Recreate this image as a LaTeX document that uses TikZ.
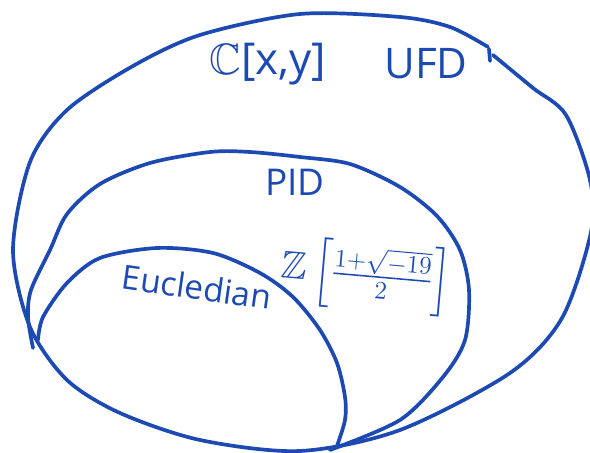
\documentclass[tikz,border=0pt]{standalone}
\usepackage{amssymb}
\usepackage{fontspec}
\setmainfont{Open Sans}
\definecolor{penblue}{RGB}{28,74,178}
\tikzset{
  pen/.style={penblue, line width=2.1pt, line cap=round, line join=round},
  hand/.style={text=penblue, inner sep=0pt}
}
\begin{document}
\begin{tikzpicture}[x=0.2mm, y=-0.2mm]
\useasboundingbox (0,0) rectangle (590,453);

% UFD region
\draw[pen] plot[smooth] coordinates {(488,47) (450,27) (400,17) (300,14) (200,35) (133,66) (67,110) (30,162) (13,250) (30,327) (67,380) (120,413) (200,440) (300,451) (400,430) (510,373) (562,318) (591,232) (590,180) (566,115) (533,88) (493,55)};
\draw[pen] (489,49) -- (490,61);

% PID region
\draw[pen] plot[smooth] coordinates {(33,348) (28,317) (31,290) (50,250) (67,214) (100,184) (150,163) (210,152) (250,152) (300,157) (350,164) (400,187) (437,216) (460,250) (469,290) (465,340) (443,377) (400,420) (330,450)};

% Euclidean region
\draw[pen] plot[smooth] coordinates {(38,340) (43,317) (67,283) (100,258) (157,248) (213,253) (260,273) (293,297) (320,330) (337,363) (345,397) (345,420) (337,446)};

% Labels
\node[hand, font=\fontsize{25}{30}\selectfont] (cxy) at (268,64) {$\mathbb{C}$[x,y]};
\node[hand, font=\fontsize{24}{28}\selectfont] (ufd) at (426,64) {UFD};
\node[hand, font=\fontsize{21}{25}\selectfont] (pid) at (295,182) {PID};
\node[hand, font=\fontsize{22}{26}\selectfont, rotate=-5] (zring) at (366,276) {$\mathbb{Z}\left[\frac{1+\sqrt{-19}}{2}\right]$};
\node[hand, font=\fontsize{19}{23}\selectfont, rotate=-8] (eucl) at (197,287) {Eucledian};
\end{tikzpicture}
\end{document}
